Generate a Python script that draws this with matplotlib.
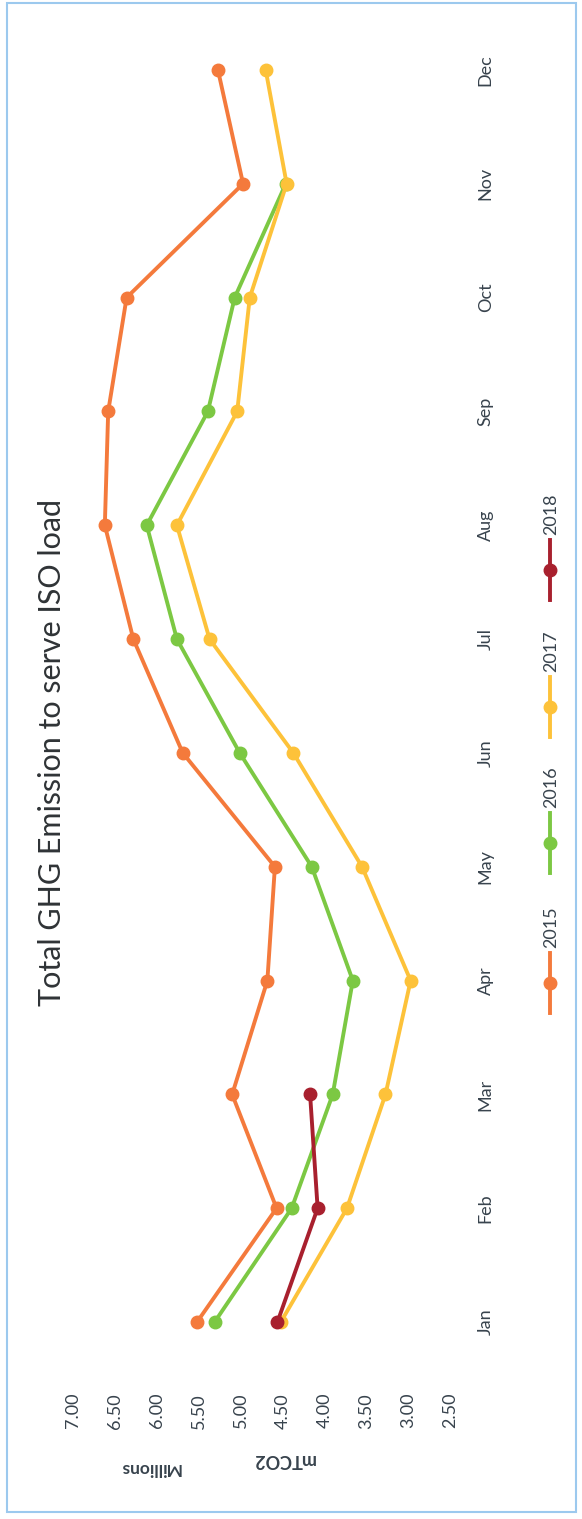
import numpy as np
import matplotlib
matplotlib.use('Agg')
from matplotlib import pyplot as plt
from matplotlib.lines import Line2D
from matplotlib.patches import Rectangle

# Dados mensais de emissão (milhões de mTCO2)
meses = ['Jan', 'Feb', 'Mar', 'Apr', 'May', 'Jun', 'Jul', 'Aug', 'Sep', 'Oct', 'Nov', 'Dec']
anos = ['2015', '2016', '2017', '2018']
ghg_2015 = [5.52, 4.57, 5.10, 4.68, 4.59, 5.69, 6.28, 6.62, 6.58, 6.36, 4.97, 5.27]
ghg_2016 = [5.31, 4.39, 3.90, 3.66, 4.15, 5.01, 5.76, 6.12, 5.39, 5.07, 4.46]
ghg_2017 = [4.52, 3.73, 3.27, 2.97, 3.55, 4.37, 5.37, 5.76, 5.04, 4.89, 4.45, 4.70]
ghg_2018 = [4.56, 4.08, 4.17]
valores_eixo = [7.00, 6.50, 6.00, 5.50, 5.00, 4.50, 4.00, 3.50, 3.00, 2.50]

series = [ghg_2015, ghg_2016, ghg_2017, ghg_2018]
cores = ['#F47A3C', '#7CC843', '#FDC23A', '#A8202E']
cor_texto = '#38434d'

plt.rcParams['font.family'] = ['Lato', 'DejaVu Sans']

W, H = 582, 1519
fig = plt.figure(figsize=(W / 100, H / 100), dpi=100)


def fx(px):
    return px / W


def fy(py):
    return 1 - py / H


# Gráfico girado: meses de baixo para cima, valores da direita para a esquerda
ax = fig.add_axes([fx(73), fy(1379), fx(450) - fx(73), fy(13) - fy(1379)])

for valores, cor in zip(series, cores):
    ax.plot(valores, np.arange(len(valores)), color=cor, lw=2.8,
            marker='o', markersize=9, solid_capstyle='round')

ax.set_xlim(7.0, 2.5)
ax.set_ylim(-0.5, 11.5)

ax.set_yticks(np.arange(len(meses)))
ax.set_yticklabels(meses, rotation=90, va='center', ha='left', fontsize=13, color=cor_texto)
ax.yaxis.tick_right()
ax.tick_params(axis='y', length=0, pad=20)

ax.set_xticks(valores_eixo)
ax.set_xticklabels(['%.2f' % v for v in valores_eixo], rotation=90, ha='center', va='top',
                   fontsize=13, color=cor_texto)
ax.tick_params(axis='x', length=0, pad=10)

for s in ax.spines.values():
    s.set_visible(False)

# Título e rótulos do eixo
fig.text(fx(52), fy(752), 'Total GHG Emission to serve ISO load', rotation=90,
         ha='center', va='center', fontsize=22, color='#2f3336')
fig.text(fx(150), fy(1468), 'Millions', rotation=180, ha='center', va='center',
         fontsize=12.5, fontweight='bold', color=cor_texto)
fig.text(fx(284), fy(1460), 'mTCO2', rotation=180, ha='center', va='center',
         fontsize=13, fontweight='bold', color=cor_texto)

# Legenda montada na vertical
pos_legenda = [983, 843, 707, 570]
for ano, cor, py in zip(anos, cores, pos_legenda):
    fig.add_artist(Line2D([fx(550), fx(550)], [fy(py + 30), fy(py - 30)], color=cor, lw=2.8,
                          transform=fig.transFigure))
    fig.add_artist(Line2D([fx(550)], [fy(py)], color=cor, marker='o', markersize=9,
                          transform=fig.transFigure))
    fig.text(fx(551), fy(py - 35), ano, rotation=90, ha='center', va='bottom',
             fontsize=13, color=cor_texto)

# Moldura do gráfico
fig.add_artist(Rectangle((fx(7), fy(1512)), fx(576) - fx(7), fy(3) - fy(1512),
                         transform=fig.transFigure, fill=False, edgecolor='#9CC9EE', lw=1.5))

fig.savefig('out.png', dpi=100, facecolor='white')
